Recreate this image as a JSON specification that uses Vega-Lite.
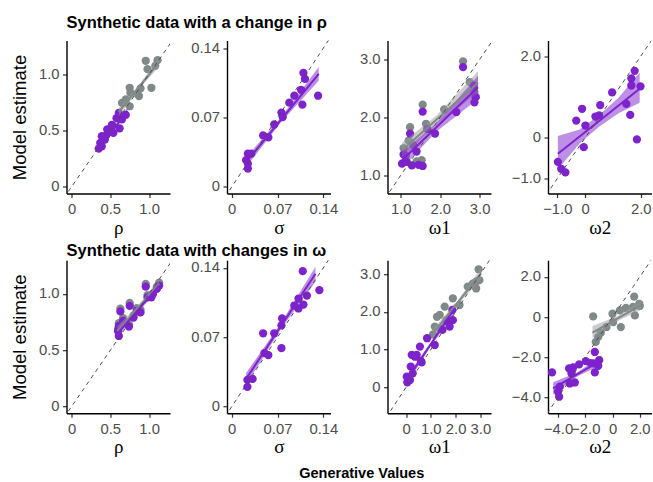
{
"$schema":"https://vega.github.io/schema/vega-lite/v6.json",
"background":"white",
"padding":{"left":10.5,"top":14.5,"right":0,"bottom":0},
"config":{
 "view":{"stroke":null},
 "axis":{"grid":false,"domain":true,"ticks":true,"domainColor":"#000000","domainWidth":1.4,"tickColor":"#333333","tickWidth":1.2,"tickSize":4,"labelColor":"#4D4D4D","labelFont":"Liberation Sans","labelFontSize":14.8,"labelOverlap":false,"labelFlush":false,"titleColor":"#000000","titleFontWeight":"normal"},
 "axisX":{"labelPadding":4,"titleFont":"Liberation Serif","titleFontSize":19,"titleBaseline":"alphabetic","titleY":39.5,"titleAlign":"center"},
 "axisY":{"labelPadding":3.5,"titleFont":"Liberation Sans","titleFontSize":18.5,"titleX":-47,"titleY":76.5,"titleAngle":270,"titleAlign":"center","titleBaseline":"middle"},
 "title":{"font":"Liberation Sans","fontSize":16.5,"fontWeight":"bold","color":"#000000","anchor":"start","frame":"group"}
},
"datasets":{
"pts":[
{"p":1,"g":"a","x":0.957,"y":1.12},{"p":1,"g":"a","x":1.11,"y":1.125},{"p":1,"g":"a","x":1.08,"y":1.075},{"p":1,"g":"a","x":0.98,"y":1.045},{"p":1,"g":"a","x":1.03,"y":0.88},{"p":1,"g":"a","x":0.75,"y":0.88},{"p":1,"g":"a","x":0.76,"y":0.836},{"p":1,"g":"a","x":0.87,"y":0.806},{"p":1,"g":"a","x":0.70,"y":0.776},{"p":1,"g":"a","x":0.65,"y":0.746},{"p":1,"g":"a","x":0.75,"y":0.716},{"p":1,"g":"a","x":0.85,"y":0.827},{"p":1,"g":"a","x":0.89,"y":0.875},{"p":1,"g":"a","x":0.68,"y":0.75},
{"p":1,"g":"b","x":0.61,"y":0.657},{"p":1,"g":"b","x":0.70,"y":0.64},{"p":1,"g":"b","x":0.58,"y":0.61},{"p":1,"g":"b","x":0.65,"y":0.60},{"p":1,"g":"b","x":0.62,"y":0.52},{"p":1,"g":"b","x":0.52,"y":0.55},{"p":1,"g":"b","x":0.46,"y":0.51},{"p":1,"g":"b","x":0.54,"y":0.48},{"p":1,"g":"b","x":0.45,"y":0.46},{"p":1,"g":"b","x":0.39,"y":0.45},{"p":1,"g":"b","x":0.43,"y":0.42},{"p":1,"g":"b","x":0.37,"y":0.39},{"p":1,"g":"b","x":0.35,"y":0.34},{"p":1,"g":"b","x":0.39,"y":0.36},{"p":1,"g":"b","x":0.50,"y":0.49},
{"p":2,"g":"b","x":0.1096,"y":0.115},{"p":2,"g":"b","x":0.112,"y":0.109},{"p":2,"g":"b","x":0.132,"y":0.092},{"p":2,"g":"b","x":0.0957,"y":0.092},{"p":2,"g":"b","x":0.106,"y":0.098},{"p":2,"g":"b","x":0.108,"y":0.083},{"p":2,"g":"b","x":0.076,"y":0.075},{"p":2,"g":"b","x":0.078,"y":0.0705},{"p":2,"g":"b","x":0.065,"y":0.063},{"p":2,"g":"b","x":0.048,"y":0.052},{"p":2,"g":"b","x":0.056,"y":0.050},{"p":2,"g":"b","x":0.0247,"y":0.0336},{"p":2,"g":"b","x":0.030,"y":0.0336},{"p":2,"g":"b","x":0.022,"y":0.027},{"p":2,"g":"b","x":0.0247,"y":0.0235},{"p":2,"g":"b","x":0.0247,"y":0.0185},{"p":2,"g":"b","x":0.088,"y":0.085},
{"p":3,"g":"a","x":2.58,"y":2.97},{"p":3,"g":"a","x":2.75,"y":2.61},{"p":3,"g":"a","x":1.555,"y":2.22},{"p":3,"g":"a","x":1.235,"y":1.83},{"p":3,"g":"a","x":1.64,"y":1.89},{"p":3,"g":"a","x":2.10,"y":2.14},{"p":3,"g":"a","x":2.87,"y":2.44},{"p":3,"g":"a","x":2.90,"y":2.35},{"p":3,"g":"a","x":1.07,"y":1.47},{"p":3,"g":"a","x":1.32,"y":1.52},{"p":3,"g":"a","x":1.53,"y":1.26},{"p":3,"g":"a","x":1.40,"y":1.24},{"p":3,"g":"a","x":1.13,"y":1.34},{"p":3,"g":"a","x":1.20,"y":1.60},
{"p":3,"g":"b","x":2.58,"y":2.87},{"p":3,"g":"b","x":1.555,"y":2.10},{"p":3,"g":"b","x":1.235,"y":1.72},{"p":3,"g":"b","x":1.87,"y":1.72},{"p":3,"g":"b","x":2.41,"y":2.09},{"p":3,"g":"b","x":2.87,"y":2.26},{"p":3,"g":"b","x":2.90,"y":2.35},{"p":3,"g":"b","x":1.07,"y":1.36},{"p":3,"g":"b","x":1.03,"y":1.20},{"p":3,"g":"b","x":1.28,"y":1.17},{"p":3,"g":"b","x":1.45,"y":1.18},{"p":3,"g":"b","x":1.555,"y":1.16},{"p":3,"g":"b","x":1.40,"y":1.41},{"p":3,"g":"b","x":1.15,"y":1.23},{"p":3,"g":"b","x":1.67,"y":1.80},{"p":3,"g":"b","x":2.85,"y":2.55},
{"p":4,"g":"b","x":1.78,"y":1.64},{"p":4,"g":"b","x":1.66,"y":1.455},{"p":4,"g":"b","x":1.66,"y":1.28},{"p":4,"g":"b","x":1.99,"y":1.26},{"p":4,"g":"b","x":0.97,"y":1.11},{"p":4,"g":"b","x":1.48,"y":0.83},{"p":4,"g":"b","x":1.62,"y":0.56},{"p":4,"g":"b","x":0.54,"y":0.80},{"p":4,"g":"b","x":-0.11,"y":0.71},{"p":4,"g":"b","x":0.37,"y":0.52},{"p":4,"g":"b","x":-0.32,"y":0.42},{"p":4,"g":"b","x":0.01,"y":0.30},{"p":4,"g":"b","x":-0.05,"y":-0.23},{"p":4,"g":"b","x":1.86,"y":-0.04},{"p":4,"g":"b","x":-0.98,"y":-0.59},{"p":4,"g":"b","x":-0.86,"y":-0.76},{"p":4,"g":"b","x":-0.71,"y":-0.85},{"p":4,"g":"b","x":0.50,"y":0.55},
{"p":5,"g":"a","x":0.957,"y":1.09},{"p":5,"g":"a","x":1.13,"y":1.10},{"p":5,"g":"a","x":0.75,"y":0.92},{"p":5,"g":"a","x":0.63,"y":0.87},{"p":5,"g":"a","x":0.665,"y":0.785},{"p":5,"g":"a","x":0.61,"y":0.74},{"p":5,"g":"a","x":0.60,"y":0.69},{"p":5,"g":"a","x":0.89,"y":0.86},{"p":5,"g":"a","x":0.84,"y":0.875},{"p":5,"g":"a","x":1.10,"y":1.065},{"p":5,"g":"a","x":0.98,"y":0.99},{"p":5,"g":"a","x":0.80,"y":0.81},{"p":5,"g":"a","x":0.74,"y":0.73},
{"p":5,"g":"b","x":0.957,"y":1.066},{"p":5,"g":"b","x":1.13,"y":1.075},{"p":5,"g":"b","x":1.10,"y":1.045},{"p":5,"g":"b","x":0.98,"y":0.97},{"p":5,"g":"b","x":1.03,"y":0.97},{"p":5,"g":"b","x":0.89,"y":0.836},{"p":5,"g":"b","x":0.84,"y":0.85},{"p":5,"g":"b","x":0.75,"y":0.895},{"p":5,"g":"b","x":0.63,"y":0.845},{"p":5,"g":"b","x":0.665,"y":0.76},{"p":5,"g":"b","x":0.74,"y":0.71},{"p":5,"g":"b","x":0.61,"y":0.716},{"p":5,"g":"b","x":0.60,"y":0.67},{"p":5,"g":"b","x":0.61,"y":0.627},{"p":5,"g":"b","x":0.80,"y":0.79},{"p":5,"g":"b","x":1.05,"y":1.00},
{"p":6,"g":"b","x":0.1086,"y":0.1366},{"p":6,"g":"b","x":0.134,"y":0.1175},{"p":6,"g":"b","x":0.102,"y":0.109},{"p":6,"g":"b","x":0.1096,"y":0.103},{"p":6,"g":"b","x":0.0957,"y":0.102},{"p":6,"g":"b","x":0.102,"y":0.099},{"p":6,"g":"b","x":0.077,"y":0.089},{"p":6,"g":"b","x":0.076,"y":0.082},{"p":6,"g":"b","x":0.065,"y":0.074},{"p":6,"g":"b","x":0.048,"y":0.074},{"p":6,"g":"b","x":0.076,"y":0.059},{"p":6,"g":"b","x":0.056,"y":0.052},{"p":6,"g":"b","x":0.050,"y":0.054},{"p":6,"g":"b","x":0.032,"y":0.028},{"p":6,"g":"b","x":0.024,"y":0.027},{"p":6,"g":"b","x":0.024,"y":0.020},{"p":6,"g":"b","x":0.115,"y":0.112},
{"p":7,"g":"a","x":2.93,"y":3.13},{"p":7,"g":"a","x":2.96,"y":2.84},{"p":7,"g":"a","x":2.83,"y":2.80},{"p":7,"g":"a","x":2.69,"y":2.75},{"p":7,"g":"a","x":2.49,"y":2.67},{"p":7,"g":"a","x":2.83,"y":2.62},{"p":7,"g":"a","x":1.89,"y":2.36},{"p":7,"g":"a","x":2.16,"y":2.18},{"p":7,"g":"a","x":1.56,"y":2.14},{"p":7,"g":"a","x":1.36,"y":1.92},{"p":7,"g":"a","x":1.25,"y":1.87},{"p":7,"g":"a","x":1.63,"y":1.78},{"p":7,"g":"a","x":1.16,"y":1.61},{"p":7,"g":"a","x":1.09,"y":1.40},{"p":7,"g":"a","x":1.36,"y":1.56},
{"p":7,"g":"b","x":1.87,"y":2.05},{"p":7,"g":"b","x":1.89,"y":1.78},{"p":7,"g":"b","x":1.69,"y":1.74},{"p":7,"g":"b","x":1.76,"y":1.61},{"p":7,"g":"b","x":1.47,"y":1.52},{"p":7,"g":"b","x":0.85,"y":1.30},{"p":7,"g":"b","x":1.16,"y":1.12},{"p":7,"g":"b","x":0.56,"y":1.08},{"p":7,"g":"b","x":0.23,"y":0.86},{"p":7,"g":"b","x":0.36,"y":0.81},{"p":7,"g":"b","x":0.43,"y":0.86},{"p":7,"g":"b","x":0.63,"y":0.66},{"p":7,"g":"b","x":0.19,"y":0.55},{"p":7,"g":"b","x":0.27,"y":0.37},{"p":7,"g":"b","x":0.03,"y":0.28},{"p":7,"g":"b","x":0.16,"y":0.19},{"p":7,"g":"b","x":0.05,"y":0.13},{"p":7,"g":"b","x":0.60,"y":0.70},
{"p":8,"g":"a","x":1.59,"y":1.02},{"p":8,"g":"a","x":1.96,"y":0.66},{"p":8,"g":"a","x":0.98,"y":0.45},{"p":8,"g":"a","x":0.54,"y":0.33},{"p":8,"g":"a","x":0.0,"y":0.165},{"p":8,"g":"a","x":1.64,"y":0.08},{"p":8,"g":"a","x":-1.42,"y":0.03},{"p":8,"g":"a","x":0.05,"y":-0.25},{"p":8,"g":"a","x":0.61,"y":-0.5},{"p":8,"g":"a","x":-0.44,"y":-0.5},{"p":8,"g":"a","x":-0.86,"y":-0.78},{"p":8,"g":"a","x":-1.05,"y":-0.99},{"p":8,"g":"a","x":-1.23,"y":-1.24},{"p":8,"g":"a","x":1.5,"y":0.5},{"p":8,"g":"a","x":2.0,"y":0.55},
{"p":8,"g":"b","x":-1.30,"y":-1.74},{"p":8,"g":"b","x":-0.98,"y":-2.15},{"p":8,"g":"b","x":-1.37,"y":-2.31},{"p":8,"g":"b","x":-1.05,"y":-2.43},{"p":8,"g":"b","x":-1.30,"y":-2.76},{"p":8,"g":"b","x":-1.96,"y":-2.20},{"p":8,"g":"b","x":-2.45,"y":-2.36},{"p":8,"g":"b","x":-2.89,"y":-2.51},{"p":8,"g":"b","x":-3.19,"y":-2.56},{"p":8,"g":"b","x":-3.01,"y":-2.81},{"p":8,"g":"b","x":-3.14,"y":-3.31},{"p":8,"g":"b","x":-2.77,"y":-3.26},{"p":8,"g":"b","x":-4.44,"y":-2.76},{"p":8,"g":"b","x":-3.87,"y":-3.47},{"p":8,"g":"b","x":-4.0,"y":-3.72},{"p":8,"g":"b","x":-3.92,"y":-3.97},{"p":8,"g":"b","x":-1.6,"y":-2.3}
],
"ln":[
{"p":1,"g":"a","x":0.61,"y":0.665},{"p":1,"g":"a","x":1.12,"y":1.10},{"p":1,"g":"b","x":0.35,"y":0.335},{"p":1,"g":"b","x":0.72,"y":0.675},
{"p":2,"g":"b","x":0.022,"y":0.025},{"p":2,"g":"b","x":0.133,"y":0.114},
{"p":3,"g":"a","x":1.03,"y":1.43},{"p":3,"g":"a","x":2.96,"y":2.60},{"p":3,"g":"b","x":1.03,"y":1.26},{"p":3,"g":"b","x":2.96,"y":2.52},
{"p":4,"g":"b","x":-0.98,"y":-0.39},{"p":4,"g":"b","x":1.96,"y":1.20},
{"p":5,"g":"a","x":0.59,"y":0.67},{"p":5,"g":"a","x":1.13,"y":1.09},{"p":5,"g":"b","x":0.59,"y":0.645},{"p":5,"g":"b","x":1.13,"y":1.075},
{"p":6,"g":"b","x":0.022,"y":0.028},{"p":6,"g":"b","x":0.128,"y":0.134},
{"p":7,"g":"a","x":1.09,"y":1.43},{"p":7,"g":"a","x":3.03,"y":3.02},{"p":7,"g":"b","x":0.03,"y":0.19},{"p":7,"g":"b","x":1.96,"y":2.09},
{"p":8,"g":"a","x":-1.47,"y":-0.78},{"p":8,"g":"a","x":2.13,"y":0.61},{"p":8,"g":"b","x":-4.36,"y":-3.55},{"p":8,"g":"b","x":-0.81,"y":-2.15}
],
"bd":[
{"p":1,"g":"a","x":0.61,"y":0.63,"hi":0.70},{"p":1,"g":"a","x":0.87,"y":0.87,"hi":0.905},{"p":1,"g":"a","x":1.12,"y":1.06,"hi":1.14},
{"p":1,"g":"b","x":0.35,"y":0.31,"hi":0.36},{"p":1,"g":"b","x":0.53,"y":0.487,"hi":0.513},{"p":1,"g":"b","x":0.72,"y":0.65,"hi":0.70},
{"p":2,"g":"b","x":0.022,"y":0.020,"hi":0.030},{"p":2,"g":"b","x":0.075,"y":0.065,"hi":0.070},{"p":2,"g":"b","x":0.133,"y":0.107,"hi":0.121},
{"p":3,"g":"a","x":1.03,"y":1.30,"hi":1.56},{"p":3,"g":"a","x":1.9,"y":1.88,"hi":2.03},{"p":3,"g":"a","x":2.96,"y":2.42,"hi":2.80},
{"p":3,"g":"b","x":1.03,"y":1.12,"hi":1.40},{"p":3,"g":"b","x":1.9,"y":1.75,"hi":1.90},{"p":3,"g":"b","x":2.96,"y":2.32,"hi":2.72},
{"p":4,"g":"b","x":-0.98,"y":-0.77,"hi":0.04},{"p":4,"g":"b","x":-0.2,"y":-0.14,"hi":0.20},{"p":4,"g":"b","x":0.5,"y":0.27,"hi":0.55},{"p":4,"g":"b","x":1.2,"y":0.60,"hi":0.98},{"p":4,"g":"b","x":1.96,"y":0.86,"hi":1.60},
{"p":5,"g":"a","x":0.59,"y":0.63,"hi":0.71},{"p":5,"g":"a","x":0.86,"y":0.86,"hi":0.90},{"p":5,"g":"a","x":1.13,"y":1.05,"hi":1.13},
{"p":5,"g":"b","x":0.59,"y":0.61,"hi":0.68},{"p":5,"g":"b","x":0.86,"y":0.845,"hi":0.875},{"p":5,"g":"b","x":1.13,"y":1.04,"hi":1.11},
{"p":6,"g":"b","x":0.022,"y":0.022,"hi":0.034},{"p":6,"g":"b","x":0.075,"y":0.078,"hi":0.084},{"p":6,"g":"b","x":0.128,"y":0.126,"hi":0.141},
{"p":7,"g":"a","x":1.09,"y":1.32,"hi":1.54},{"p":7,"g":"a","x":2.06,"y":2.17,"hi":2.28},{"p":7,"g":"a","x":3.03,"y":2.88,"hi":3.16},
{"p":7,"g":"b","x":0.03,"y":0.08,"hi":0.30},{"p":7,"g":"b","x":1.0,"y":1.09,"hi":1.19},{"p":7,"g":"b","x":1.96,"y":1.95,"hi":2.23},
{"p":8,"g":"a","x":-1.47,"y":-1.05,"hi":-0.45},{"p":8,"g":"a","x":0.3,"y":-0.22,"hi":0.03},{"p":8,"g":"a","x":2.13,"y":0.38,"hi":0.84},
{"p":8,"g":"b","x":-4.36,"y":-3.85,"hi":-3.25},{"p":8,"g":"b","x":-2.6,"y":-2.96,"hi":-2.76},{"p":8,"g":"b","x":-0.81,"y":-2.38,"hi":-1.92}
],
"dg":[
{"p":1,"x":-0.1,"y":-0.1},{"p":1,"x":1.4,"y":1.4},{"p":2,"x":-0.01,"y":-0.01},{"p":2,"x":0.16,"y":0.16},{"p":3,"x":0.6,"y":0.6},{"p":3,"x":3.4,"y":3.4},{"p":4,"x":-1.4,"y":-1.4},{"p":4,"x":2.4,"y":2.4},
{"p":5,"x":-0.1,"y":-0.1},{"p":5,"x":1.4,"y":1.4},{"p":6,"x":-0.01,"y":-0.01},{"p":6,"x":0.16,"y":0.16},{"p":7,"x":-0.8,"y":-0.8},{"p":7,"x":3.5,"y":3.5},{"p":8,"x":-4.8,"y":-4.8},{"p":8,"x":2.9,"y":2.9}
]
},
"columns":4,
"spacing":{"row":66.7,"column":56.5},
"bounds":"flush",
"concat":[
{"width":103.5,"height":153,"title":{"text":"Synthetic data with a change in ρ","offset":9.3},
 "encoding":{"x":{"field":"x","type":"quantitative","scale":{"domain":[-0.065,1.27],"nice":false,"zero":false},"axis":{"values":[0,0.5,1],"labelExpr":"datum.value == 0 ? '0' : format(datum.value, '.1f')","title":"ρ"}},
  "y":{"field":"y","type":"quantitative","scale":{"domain":[-0.059,1.30],"nice":false,"zero":false},"axis":{"values":[0,0.5,1],"labelExpr":"datum.value == 0 ? '0' : format(datum.value, '.1f')","title":"Model estimate"}}},
 "layer":[
  {"data":{"name":"pts"},"transform":[{"filter":"datum.p == 1"}],"mark":{"type":"circle","size":68,"opacity":1,"clip":true},"encoding":{"color":{"field":"g","type":"nominal","scale":{"domain":["a","b"],"range":["#7F8A88","#7D22CC"]},"legend":null}}},
  {"data":{"name":"bd"},"transform":[{"filter":"datum.p == 1"}],"mark":{"type":"area","opacity":0.5,"clip":true},"encoding":{"y2":{"field":"hi"},"fill":{"field":"g","type":"nominal","scale":{"domain":["a","b"],"range":["#9A9A9A","#7D22CC"]},"legend":null}}},
  {"data":{"name":"ln"},"transform":[{"filter":"datum.p == 1"}],"mark":{"type":"line","strokeWidth":2,"clip":true},"encoding":{"color":{"field":"g","type":"nominal","scale":{"domain":["a","b"],"range":["#7F8A88","#7D22CC"]},"legend":null}}},
  {"data":{"name":"dg"},"transform":[{"filter":"datum.p == 1"}],"mark":{"type":"line","color":"#4D4D4D","strokeWidth":1,"strokeDash":[4,4],"clip":true},"encoding":{}}
 ]},
{"width":103.5,"height":153,
 "encoding":{"x":{"field":"x","type":"quantitative","scale":{"domain":[-0.0072,0.151],"nice":false,"zero":false},"axis":{"values":[0,0.07,0.14],"labelExpr":"datum.value == 0 ? '0' : format(datum.value, '.2f')","title":"σ"}},
  "y":{"field":"y","type":"quantitative","scale":{"domain":[-0.0066,0.1477],"nice":false,"zero":false},"axis":{"values":[0,0.07,0.14],"labelExpr":"datum.value == 0 ? '0' : format(datum.value, '.2f')","title":null}}},
 "layer":[
  {"data":{"name":"pts"},"transform":[{"filter":"datum.p == 2"}],"mark":{"type":"circle","size":68,"opacity":1,"clip":true},"encoding":{"color":{"field":"g","type":"nominal","scale":{"domain":["a","b"],"range":["#7F8A88","#7D22CC"]},"legend":null}}},
  {"data":{"name":"bd"},"transform":[{"filter":"datum.p == 2"}],"mark":{"type":"area","opacity":0.5,"clip":true},"encoding":{"y2":{"field":"hi"},"fill":{"field":"g","type":"nominal","scale":{"domain":["a","b"],"range":["#9A9A9A","#7D22CC"]},"legend":null}}},
  {"data":{"name":"ln"},"transform":[{"filter":"datum.p == 2"}],"mark":{"type":"line","strokeWidth":2,"clip":true},"encoding":{"color":{"field":"g","type":"nominal","scale":{"domain":["a","b"],"range":["#7F8A88","#7D22CC"]},"legend":null}}},
  {"data":{"name":"dg"},"transform":[{"filter":"datum.p == 2"}],"mark":{"type":"line","color":"#4D4D4D","strokeWidth":1,"strokeDash":[4,4],"clip":true},"encoding":{}}
 ]},
{"width":103.5,"height":153,
 "encoding":{"x":{"field":"x","type":"quantitative","scale":{"domain":[0.662,3.29],"nice":false,"zero":false},"axis":{"values":[1,2,3],"labelExpr":"datum.value == 0 ? '0' : format(datum.value, '.1f')","title":"ω1"}},
  "y":{"field":"y","type":"quantitative","scale":{"domain":[0.684,3.33],"nice":false,"zero":false},"axis":{"values":[1,2,3],"labelExpr":"datum.value == 0 ? '0' : format(datum.value, '.1f')","title":null}}},
 "layer":[
  {"data":{"name":"pts"},"transform":[{"filter":"datum.p == 3"}],"mark":{"type":"circle","size":68,"opacity":1,"clip":true},"encoding":{"color":{"field":"g","type":"nominal","scale":{"domain":["a","b"],"range":["#7F8A88","#7D22CC"]},"legend":null}}},
  {"data":{"name":"bd"},"transform":[{"filter":"datum.p == 3"}],"mark":{"type":"area","opacity":0.5,"clip":true},"encoding":{"y2":{"field":"hi"},"fill":{"field":"g","type":"nominal","scale":{"domain":["a","b"],"range":["#9A9A9A","#7D22CC"]},"legend":null}}},
  {"data":{"name":"ln"},"transform":[{"filter":"datum.p == 3"}],"mark":{"type":"line","strokeWidth":2,"clip":true},"encoding":{"color":{"field":"g","type":"nominal","scale":{"domain":["a","b"],"range":["#7F8A88","#7D22CC"]},"legend":null}}},
  {"data":{"name":"dg"},"transform":[{"filter":"datum.p == 3"}],"mark":{"type":"line","color":"#4D4D4D","strokeWidth":1,"strokeDash":[4,4],"clip":true},"encoding":{}}
 ]},
{"width":103.5,"height":153,
 "encoding":{"x":{"field":"x","type":"quantitative","scale":{"domain":[-1.335,2.385],"nice":false,"zero":false},"axis":{"values":[-1,0,2],"labelExpr":"datum.value == 0 ? '0' : format(datum.value, '.1f')","title":"ω2"}},
  "y":{"field":"y","type":"quantitative","scale":{"domain":[-1.366,2.383],"nice":false,"zero":false},"axis":{"values":[-1,0,2],"labelExpr":"datum.value == 0 ? '0' : format(datum.value, '.1f')","title":null}}},
 "layer":[
  {"data":{"name":"pts"},"transform":[{"filter":"datum.p == 4"}],"mark":{"type":"circle","size":68,"opacity":1,"clip":true},"encoding":{"color":{"field":"g","type":"nominal","scale":{"domain":["a","b"],"range":["#7F8A88","#7D22CC"]},"legend":null}}},
  {"data":{"name":"bd"},"transform":[{"filter":"datum.p == 4"}],"mark":{"type":"area","opacity":0.5,"clip":true},"encoding":{"y2":{"field":"hi"},"fill":{"field":"g","type":"nominal","scale":{"domain":["a","b"],"range":["#9A9A9A","#7D22CC"]},"legend":null}}},
  {"data":{"name":"ln"},"transform":[{"filter":"datum.p == 4"}],"mark":{"type":"line","strokeWidth":2,"clip":true},"encoding":{"color":{"field":"g","type":"nominal","scale":{"domain":["a","b"],"range":["#7F8A88","#7D22CC"]},"legend":null}}},
  {"data":{"name":"dg"},"transform":[{"filter":"datum.p == 4"}],"mark":{"type":"line","color":"#4D4D4D","strokeWidth":1,"strokeDash":[4,4],"clip":true},"encoding":{}}
 ]},
{"width":103.5,"height":153,"title":{"text":"Synthetic data with changes in ω","offset":0.6},
 "encoding":{"x":{"field":"x","type":"quantitative","scale":{"domain":[-0.065,1.27],"nice":false,"zero":false},"axis":{"values":[0,0.5,1],"labelExpr":"datum.value == 0 ? '0' : format(datum.value, '.1f')","title":"ρ"}},
  "y":{"field":"y","type":"quantitative","scale":{"domain":[-0.059,1.30],"nice":false,"zero":false},"axis":{"values":[0,0.5,1],"labelExpr":"datum.value == 0 ? '0' : format(datum.value, '.1f')","title":"Model estimate"}}},
 "layer":[
  {"data":{"name":"pts"},"transform":[{"filter":"datum.p == 5"}],"mark":{"type":"circle","size":68,"opacity":1,"clip":true},"encoding":{"color":{"field":"g","type":"nominal","scale":{"domain":["a","b"],"range":["#7F8A88","#7D22CC"]},"legend":null}}},
  {"data":{"name":"bd"},"transform":[{"filter":"datum.p == 5"}],"mark":{"type":"area","opacity":0.5,"clip":true},"encoding":{"y2":{"field":"hi"},"fill":{"field":"g","type":"nominal","scale":{"domain":["a","b"],"range":["#9A9A9A","#7D22CC"]},"legend":null}}},
  {"data":{"name":"ln"},"transform":[{"filter":"datum.p == 5"}],"mark":{"type":"line","strokeWidth":2,"clip":true},"encoding":{"color":{"field":"g","type":"nominal","scale":{"domain":["a","b"],"range":["#7F8A88","#7D22CC"]},"legend":null}}},
  {"data":{"name":"dg"},"transform":[{"filter":"datum.p == 5"}],"mark":{"type":"line","color":"#4D4D4D","strokeWidth":1,"strokeDash":[4,4],"clip":true},"encoding":{}}
 ]},
{"width":103.5,"height":153,"title":{"text":"Generative Values","orient":"bottom","anchor":"middle","dx":83,"offset":10.5,"fontSize":14.5},
 "encoding":{"x":{"field":"x","type":"quantitative","scale":{"domain":[-0.0072,0.151],"nice":false,"zero":false},"axis":{"values":[0,0.07,0.14],"labelExpr":"datum.value == 0 ? '0' : format(datum.value, '.2f')","title":"σ"}},
  "y":{"field":"y","type":"quantitative","scale":{"domain":[-0.0066,0.1477],"nice":false,"zero":false},"axis":{"values":[0,0.07,0.14],"labelExpr":"datum.value == 0 ? '0' : format(datum.value, '.2f')","title":null}}},
 "layer":[
  {"data":{"name":"pts"},"transform":[{"filter":"datum.p == 6"}],"mark":{"type":"circle","size":68,"opacity":1,"clip":true},"encoding":{"color":{"field":"g","type":"nominal","scale":{"domain":["a","b"],"range":["#7F8A88","#7D22CC"]},"legend":null}}},
  {"data":{"name":"bd"},"transform":[{"filter":"datum.p == 6"}],"mark":{"type":"area","opacity":0.5,"clip":true},"encoding":{"y2":{"field":"hi"},"fill":{"field":"g","type":"nominal","scale":{"domain":["a","b"],"range":["#9A9A9A","#7D22CC"]},"legend":null}}},
  {"data":{"name":"ln"},"transform":[{"filter":"datum.p == 6"}],"mark":{"type":"line","strokeWidth":2,"clip":true},"encoding":{"color":{"field":"g","type":"nominal","scale":{"domain":["a","b"],"range":["#7F8A88","#7D22CC"]},"legend":null}}},
  {"data":{"name":"dg"},"transform":[{"filter":"datum.p == 6"}],"mark":{"type":"line","color":"#4D4D4D","strokeWidth":1,"strokeDash":[4,4],"clip":true},"encoding":{}}
 ]},
{"width":103.5,"height":153,
 "encoding":{"x":{"field":"x","type":"quantitative","scale":{"domain":[-0.748,3.43],"nice":false,"zero":false},"axis":{"values":[0,1,2,3],"labelExpr":"datum.value == 0 ? '0' : format(datum.value, '.1f')","title":"ω1"}},
  "y":{"field":"y","type":"quantitative","scale":{"domain":[-0.688,3.37],"nice":false,"zero":false},"axis":{"values":[0,1,2,3],"labelExpr":"datum.value == 0 ? '0' : format(datum.value, '.1f')","title":null}}},
 "layer":[
  {"data":{"name":"pts"},"transform":[{"filter":"datum.p == 7"}],"mark":{"type":"circle","size":68,"opacity":1,"clip":true},"encoding":{"color":{"field":"g","type":"nominal","scale":{"domain":["a","b"],"range":["#7F8A88","#7D22CC"]},"legend":null}}},
  {"data":{"name":"bd"},"transform":[{"filter":"datum.p == 7"}],"mark":{"type":"area","opacity":0.5,"clip":true},"encoding":{"y2":{"field":"hi"},"fill":{"field":"g","type":"nominal","scale":{"domain":["a","b"],"range":["#9A9A9A","#7D22CC"]},"legend":null}}},
  {"data":{"name":"ln"},"transform":[{"filter":"datum.p == 7"}],"mark":{"type":"line","strokeWidth":2,"clip":true},"encoding":{"color":{"field":"g","type":"nominal","scale":{"domain":["a","b"],"range":["#7F8A88","#7D22CC"]},"legend":null}}},
  {"data":{"name":"dg"},"transform":[{"filter":"datum.p == 7"}],"mark":{"type":"line","color":"#4D4D4D","strokeWidth":1,"strokeDash":[4,4],"clip":true},"encoding":{}}
 ]},
{"width":103.5,"height":153,
 "encoding":{"x":{"field":"x","type":"quantitative","scale":{"domain":[-4.735,2.86],"nice":false,"zero":false},"axis":{"values":[-4,-2,0,2],"labelExpr":"datum.value == 0 ? '0' : format(datum.value, '.1f')","title":"ω2"}},
  "y":{"field":"y","type":"quantitative","scale":{"domain":[-4.79,2.83],"nice":false,"zero":false},"axis":{"values":[-4,-2,0,2],"labelExpr":"datum.value == 0 ? '0' : format(datum.value, '.1f')","title":null}}},
 "layer":[
  {"data":{"name":"pts"},"transform":[{"filter":"datum.p == 8"}],"mark":{"type":"circle","size":68,"opacity":1,"clip":true},"encoding":{"color":{"field":"g","type":"nominal","scale":{"domain":["a","b"],"range":["#7F8A88","#7D22CC"]},"legend":null}}},
  {"data":{"name":"bd"},"transform":[{"filter":"datum.p == 8"}],"mark":{"type":"area","opacity":0.5,"clip":true},"encoding":{"y2":{"field":"hi"},"fill":{"field":"g","type":"nominal","scale":{"domain":["a","b"],"range":["#9A9A9A","#7D22CC"]},"legend":null}}},
  {"data":{"name":"ln"},"transform":[{"filter":"datum.p == 8"}],"mark":{"type":"line","strokeWidth":2,"clip":true},"encoding":{"color":{"field":"g","type":"nominal","scale":{"domain":["a","b"],"range":["#7F8A88","#7D22CC"]},"legend":null}}},
  {"data":{"name":"dg"},"transform":[{"filter":"datum.p == 8"}],"mark":{"type":"line","color":"#4D4D4D","strokeWidth":1,"strokeDash":[4,4],"clip":true},"encoding":{}}
 ]}
]
}
